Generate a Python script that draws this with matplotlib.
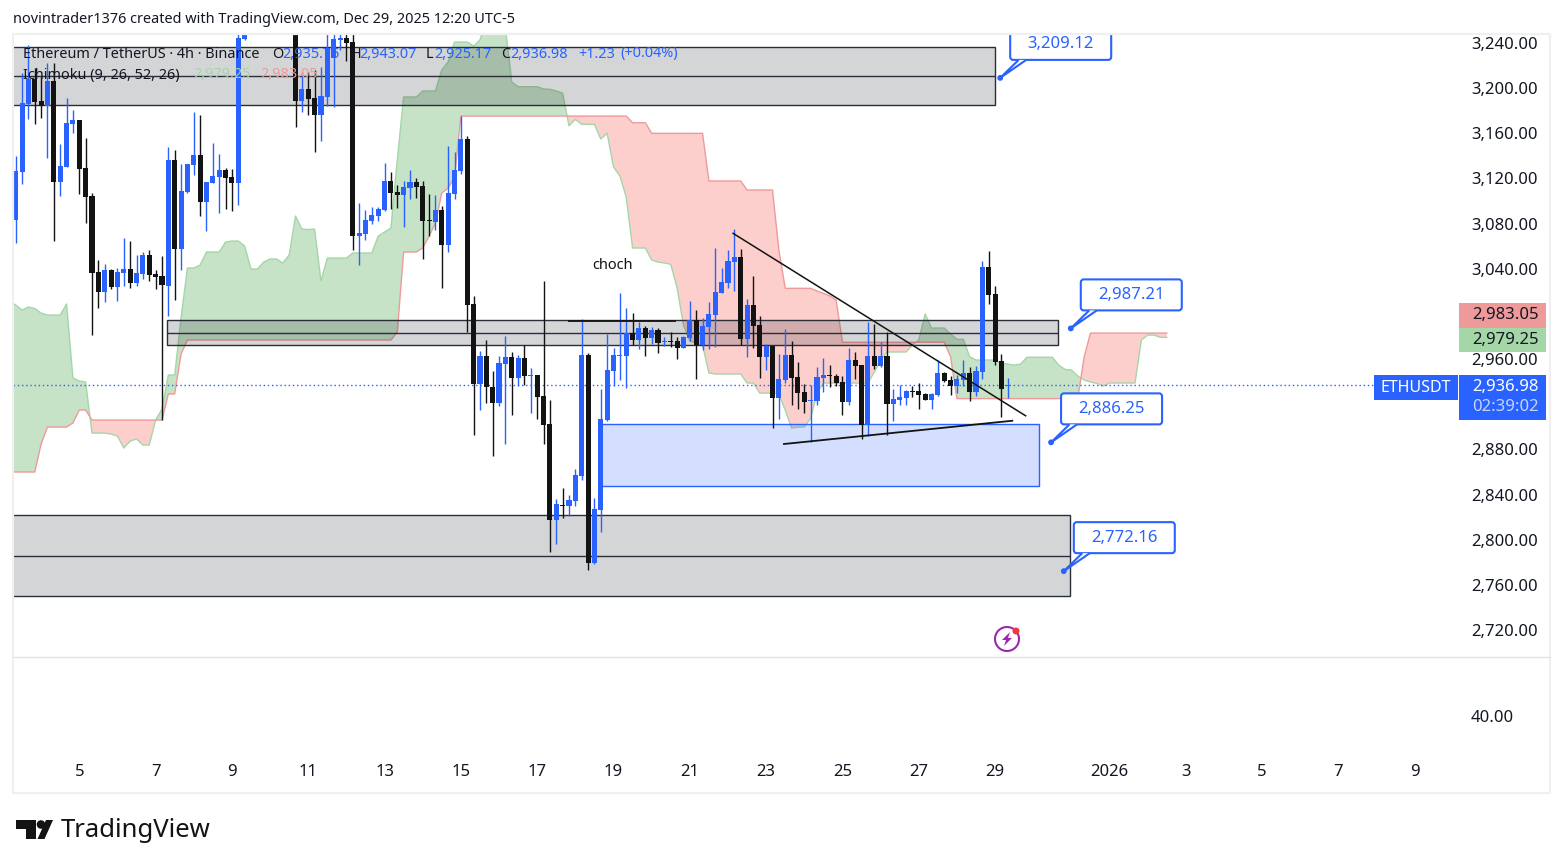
#!/usr/bin/env python3
"""
ETHUSDT 4h chart with Ichimoku cloud, zones and price callouts
"""

import numpy as np
import matplotlib
matplotlib.use('Agg')
import matplotlib.pyplot as plt
from matplotlib.patches import Rectangle, FancyBboxPatch, Polygon, Circle
from matplotlib.transforms import IdentityTransform

nan = np.nan

WIDTH, HEIGHT = 1563, 868
FONT = 'Noto Sans'
BLUE = '#2962ff'
BLACK = '#131313'
DARK = '#2a2e39'

# Candles, first visible bar is index 0. The nan bars sit above the visible range.
opens = [
    3083.2, 3125.7, 3186.0, 3208.1, 3188.6, 3184.5, 3206.3, 3116.9, 3130.2, 3168.2,
    3171.8, 3129.3, 3104.5, 3037.1, 3019.4, 3038.9, 3023.8, 3036.2, 3039.8, 3027.4,
    3035.4, 3052.2, 3035.4, 3033.6, 3024.7, 3136.4, 3057.5, 3108.0, 3131.9, 3140.8,
    3099.1, 3116.0, 3121.3, 3127.5, 3121.3, 3116.0, 3243.8, nan, nan, nan,
    nan, nan, nan, nan, 3260.0, 3188.6, 3199.3, 3191.3, 3176.2, 3192.2,
    3226.4, 3242.7, 3244.4, 3240.9, 3069.0, 3070.8, 3082.3, 3086.7, 3092.1, 3117.8,
    3108.0, 3105.3, 3111.6, 3116.9, 3113.3, 3083.2, 3081.4, 3092.1, 3061.1, 3106.2,
    3126.6, 3155.0, 3008.8, 2938.2, 2962.7, 2935.0, 2921.1, 2955.6, 2961.8, 2943.2,
    2960.9, 2945.0, 2945.9, 2927.3, 2902.5, 2817.4, 2831.0, 2829.8, 2834.3, 2856.4,
    2963.6, 2779.3, 2826.3, 2906.0, 2949.4, 2963.0, 2962.7, 2983.1, 2976.9, 2987.5,
    2978.7, 2985.8, 2975.1, 2976.0, 2976.0, 2969.8, 2978.7, 2994.6, 2972.5, 2988.4,
    2999.0, 3018.5, 3027.4, 3046.0, 3050.4, 2977.8, 3007.9, 2990.2, 2961.8, 2971.6,
    2925.5, 2941.5, 2963.6, 2944.1, 2930.8, 2922.9, 2922.9, 2943.2, 2945.9, 2945.0,
    2939.7, 2922.0, 2959.2, 2954.7, 2901.6, 2962.7, 2953.9, 2962.7, 2920.2, 2923.7,
    2925.5, 2931.7, 2931.7, 2929.1, 2923.7, 2928.2, 2947.7, 2941.5, 2936.1, 2941.5,
    2947.7, 2930.8, 2948.5, 3041.6, 3017.6, 2958.3, 2935.75,
]
closes = [
    3126.6, 3187.1, 3208.1, 3187.7, 3184.5, 3206.3, 3116.9, 3131.0, 3169.1, 3171.8,
    3128.4, 3103.6, 3036.2, 3019.4, 3038.9, 3023.8, 3037.1, 3039.8, 3027.4, 3036.2,
    3052.2, 3034.5, 3032.7, 3025.3, 3136.4, 3057.5, 3108.9, 3132.8, 3140.8, 3099.1,
    3116.9, 3122.2, 3127.5, 3120.4, 3116.0, 3244.4, 3247.7, nan, nan, nan,
    nan, nan, nan, nan, 3188.6, 3199.3, 3190.4, 3176.2, 3193.1, 3235.6,
    3243.5, 3244.4, 3240.0, 3069.0, 3071.7, 3083.2, 3087.6, 3092.9, 3117.8, 3107.1,
    3105.3, 3112.4, 3116.9, 3112.4, 3082.3, 3082.3, 3092.1, 3061.1, 3107.1, 3127.5,
    3155.0, 3007.9, 2938.2, 2962.7, 2935.0, 2921.1, 2956.5, 2961.8, 2943.2, 2960.9,
    2945.0, 2945.6, 2926.4, 2901.6, 2817.4, 2831.6, 2830.1, 2835.2, 2857.3, 2963.6,
    2779.3, 2827.2, 2906.9, 2950.3, 2963.6, 2963.6, 2983.1, 2976.9, 2987.5, 2978.7,
    2985.8, 2974.2, 2976.0, 2975.1, 2969.8, 2979.6, 2994.6, 2972.5, 2989.3, 2999.9,
    3019.4, 3028.3, 3046.9, 3050.4, 2977.8, 3007.9, 2989.3, 2961.8, 2971.6, 2925.5,
    2942.3, 2963.6, 2943.2, 2929.9, 2922.0, 2923.7, 2944.1, 2945.9, 2945.0, 2938.8,
    2922.0, 2959.2, 2953.9, 2901.6, 2962.7, 2953.9, 2962.7, 2920.2, 2924.6, 2926.4,
    2931.7, 2930.8, 2928.2, 2923.7, 2929.1, 2947.7, 2940.6, 2936.1, 2942.3, 2947.7,
    2930.8, 2949.4, 3041.6, 3016.8, 2957.4, 2933.5, 2936.98,
]
highs = [
    3139.9, 3213.1, 3238.2, 3217.6, 3209.6, 3222.0, 3222.0, 3150.5, 3191.0, 3180.7,
    3172.0, 3155.8, 3107.4, 3047.8, 3044.2, 3040.0, 3040.4, 3067.3, 3064.6, 3051.9,
    3054.6, 3056.6, 3038.9, 3051.3, 3147.9, 3145.2, 3132.8, 3132.8, 3178.9, 3176.2,
    3116.9, 3151.1, 3141.7, 3129.3, 3128.4, 3248.6, 3250.0, nan, nan, nan,
    nan, nan, nan, nan, 3270.0, 3214.0, 3214.6, 3216.1, 3219.1, 3250.0,
    3255.0, 3248.0, 3255.0, 3255.0, 3098.0, 3092.1, 3094.4, 3095.0, 3133.7, 3125.7,
    3114.2, 3117.8, 3127.5, 3120.4, 3117.8, 3106.2, 3105.6, 3095.6, 3148.8, 3143.4,
    3175.3, 3157.6, 3015.9, 2967.1, 2976.9, 2949.4, 2962.7, 2980.4, 2966.3, 2963.6,
    2972.5, 2952.1, 2945.9, 3029.2, 2923.7, 2836.0, 2845.8, 2839.6, 2862.6, 2995.5,
    2965.4, 2836.9, 2933.5, 2982.2, 2969.8, 3018.5, 3005.2, 3000.8, 2992.8, 2989.3,
    2988.4, 2987.5, 2979.6, 2984.0, 2979.6, 2980.4, 3011.4, 3003.5, 2996.4, 3010.6,
    3058.4, 3040.7, 3056.6, 3075.2, 3057.5, 3013.2, 3033.6, 2998.2, 2973.3, 2971.6,
    2964.5, 2986.6, 2976.0, 2957.4, 2937.9, 2937.0, 2953.0, 2960.9, 2954.7, 2946.8,
    2945.0, 2969.8, 2966.3, 2954.7, 2992.8, 2991.1, 2975.1, 2984.0, 2933.5, 2937.0,
    2932.6, 2936.1, 2938.8, 2930.0, 2930.0, 2959.2, 2948.5, 2945.0, 2945.9, 2959.2,
    2953.0, 2953.9, 3046.9, 3055.7, 3024.7, 2964.5, 2943.07,
]
lows = [
    3063.1, 3115.1, 3173.0, 3168.2, 3173.6, 3138.1, 3064.9, 3104.5, 3130.0, 3160.0,
    3106.2, 3080.8, 2981.3, 3005.2, 3010.6, 3022.4, 3011.4, 3024.7, 3023.0, 3024.7,
    3030.9, 3029.2, 3022.1, 2906.0, 2998.2, 3012.3, 3038.9, 3107.1, 3123.1, 3086.7,
    3073.5, 3115.7, 3089.4, 3092.9, 3091.2, 3096.5, 3243.0, nan, nan, nan,
    nan, nan, nan, nan, 3165.9, 3178.9, 3176.2, 3143.4, 3153.2, 3184.2,
    3183.3, 3233.8, 3224.1, 3056.6, 3043.3, 3065.5, 3079.7, 3082.6, 3091.2, 3092.9,
    3093.8, 3077.0, 3101.8, 3102.7, 3048.7, 3069.0, 3074.3, 3023.0, 3054.9, 3101.8,
    3124.0, 2984.0, 2892.7, 2914.9, 2921.1, 2874.1, 2918.4, 2884.8, 2910.4, 2936.1,
    2937.0, 2912.2, 2906.9, 2884.8, 2789.1, 2796.2, 2819.2, 2821.0, 2829.8, 2852.9,
    2773.2, 2778.4, 2806.8, 2905.1, 2936.1, 2941.5, 2934.4, 2972.5, 2968.9, 2962.7,
    2973.3, 2965.4, 2971.6, 2970.7, 2960.1, 2969.5, 2976.0, 2942.3, 2968.0, 2968.9,
    2970.7, 3018.5, 3023.0, 3020.3, 2972.5, 2961.8, 2969.8, 2943.2, 2950.3, 2898.9,
    2906.9, 2938.8, 2919.3, 2915.8, 2912.2, 2886.5, 2919.3, 2930.8, 2935.3, 2936.1,
    2910.4, 2919.3, 2942.3, 2889.2, 2891.8, 2951.2, 2953.0, 2892.7, 2905.1, 2919.3,
    2919.3, 2926.4, 2915.8, 2923.7, 2915.8, 2927.3, 2939.7, 2928.2, 2929.9, 2936.1,
    2922.9, 2927.3, 2942.3, 3008.8, 2954.7, 2908.7, 2925.17,
]

# Ichimoku leading spans, one value per bar starting at bar -1
span_a = [
    3011.4, 3007.9, 3003.5, 3006.1, 3004.8, 3000.8, 2999.0, 2999.0, 2999.0, 3008.8,
    2943.2, 2940.6, 2939.7, 2894.5, 2894.5, 2894.5, 2893.6, 2891.8, 2881.2, 2887.4,
    2889.2, 2883.9, 2883.9, 2906.0, 2915.8, 2945.9, 2945.9, 2996.4, 3040.7, 3040.7,
    3043.3, 3054.9, 3054.9, 3054.9, 3063.7, 3064.6, 3064.6, 3060.2, 3039.8, 3039.8,
    3046.0, 3048.7, 3048.7, 3045.1, 3052.2, 3086.7, 3075.2, 3074.8, 3075.2, 3029.2,
    3049.5, 3049.5, 3049.5, 3049.5, 3054.0, 3054.0, 3054.0, 3054.0, 3069.0, 3072.6,
    3076.1, 3136.4, 3192.2, 3192.2, 3192.2, 3197.5, 3197.5, 3197.5, 3216.1, 3223.2,
    3240.9, 3240.9, 3240.9, 3237.3, 3242.7, 3260.4, 3262.0, 3262.0, 3253.3, 3205.5,
    3201.3, 3201.3, 3201.3, 3201.3, 3199.3, 3199.0, 3197.5, 3195.7, 3166.7, 3172.4,
    3168.0, 3168.0, 3168.0, 3155.0, 3160.0, 3130.2, 3122.2, 3103.6, 3058.4, 3058.4,
    3058.4, 3047.8, 3046.0, 3045.1, 3044.0, 3023.0, 2990.2, 2976.0, 2974.2, 2972.5,
    2947.7, 2946.8, 2946.8, 2946.8, 2946.8, 2946.8, 2938.8, 2938.8, 2929.9, 2929.9,
    2929.9, 2929.1, 2914.9, 2898.9, 2899.8, 2899.8, 2907.8, 2929.9, 2938.8, 2938.8,
    2938.8, 2938.8, 2938.8, 2938.8, 2938.8, 2938.8, 2948.5, 2959.2, 2966.3, 2966.3,
    2966.3, 2966.3, 2972.5, 2976.9, 2999.9, 2987.5, 2987.5, 2987.5, 2982.2, 2977.5,
    2977.5, 2962.1, 2959.2, 2959.2, 2959.2, 2959.2, 2956.5, 2955.6, 2954.7, 2955.6,
    2961.6, 2961.6, 2961.6, 2961.6, 2961.6, 2954.7, 2950.8, 2950.3, 2945.0, 2941.5,
    2939.7, 2938.5, 2936.1, 2938.8, 2938.8, 2938.8, 2938.8, 2938.8, 2976.9, 2981.3,
    2981.3, 2979.25, 2979.25,
]
span_b = (
    [2860.0] * 5 + [2884.8] + [2899.8] * 4 + [2903.4] + [2914.9] * 2 + [2906.0] * 12
    + [2929.1] * 2 + [2964.5] + [2976.9] * 33 + [2984.0] + [3054.9] * 3
    + [3058.4, 3069.0, 3080.5, 3107.1, 3111.6, 3121.3] + [3175.3] * 27 + [3169.4] * 3
    + [3160.0] * 9 + [3117.8] * 6 + [3109.8] * 5 + [3056.6] + [3022.7] * 5
    + [3020.3, 3018.3, 3015.9, 3012.3] + [2974.9] * 17 + [2962.1] + [2925.0] * 20
    + [2961.8] + [2983.05] * 13
)

# Axis ticks
price_ticks = [3240, 3200, 3160, 3120, 3080, 3040, 2960, 2880, 2840, 2800, 2760, 2720]
time_tick_bars = [10, 22, 34, 46, 58, 70, 82, 94, 106, 118, 130, 142, 154, 172, 184, 196, 208, 220]
time_tick_labels = ['5', '7', '9', '11', '13', '15', '17', '19', '21', '23', '25', '27', '29',
                    '2026', '3', '5', '7', '9']

# Grey zones: first bar, last bar, top, middle, bottom
zone_first = [-1, 23.8, -1]
zone_last = [154, 163.9, 165.8]
zone_top = [3236.5, 2994.3, 2821.6]
zone_mid = [3210.8, 2982.8, 2785.3]
zone_bottom = [3185.1, 2972.2, 2749.8]

# Blue demand box
box_bars = [92.1, 160.9]
box_prices = [2847.3, 2902.2]

# Trend lines and the short choch level
line_down_bars = [112.8, 158.8]
line_down_prices = [3071.4, 2909.8]
line_up_bars = [120.8, 156.7]
line_up_prices = [2884.8, 2905.4]
choch_bars = [86.9, 103.8]
choch_price = 2993.7

last_price = 2936.98

# Callouts: anchor bar and price
callout_bars = [154.8, 165.9, 162.8, 164.8]
callout_prices = [3209.12, 2987.21, 2886.25, 2772.16]


def px(x, y):
    """Image pixel (y from the top) to figure fraction"""
    return x / WIDTH, 1 - y / HEIGHT


def fig_rect(fig, x0, y0, x1, y1, **kwargs):
    """Rectangle given in image pixels, drawn on the figure"""
    fx, fy = px(x0, y1)
    fig.add_artist(Rectangle((fx, fy), (x1 - x0) / WIDTH, (y1 - y0) / HEIGHT,
                             transform=fig.transFigure, **kwargs))


def fig_text(fig, x, y, s, size=10.5, color='#131722', ha='left', weight='normal', zorder=10):
    fx, fy = px(x, y)
    fig.text(fx, fy, s, fontsize=size, color=color, ha=ha, va='center',
             fontweight=weight, family=FONT, zorder=zorder)


def draw_candles(ax):
    o, c = np.array(opens), np.array(closes)
    h, l = np.array(highs), np.array(lows)
    x = np.arange(len(o))
    up = c >= o
    for mask, color in [(up, BLUE), (~up & ~np.isnan(o), BLACK)]:
        ax.vlines(x[mask], l[mask], h[mask], color=color, linewidth=1.0, zorder=4)
        body = np.maximum(np.abs(c[mask] - o[mask]), 1.0)
        ax.bar(x[mask], body, bottom=np.minimum(o[mask], c[mask]), width=0.8,
               color=color, linewidth=0, zorder=5)


def draw_cloud(ax):
    a, b = np.array(span_a), np.array(span_b)
    x = np.arange(-1, len(a) - 1)
    ax.fill_between(x, a, b, where=a >= b, interpolate=True, color='#43a047', alpha=0.3,
                    linewidth=0, zorder=1)
    ax.fill_between(x, a, b, where=a < b, interpolate=True, color='#f44336', alpha=0.25,
                    linewidth=0, zorder=1)
    ax.plot(x, a, color='#a5d6a7', linewidth=1.0, zorder=1.5)
    ax.plot(x, b, color='#ef9a9a', linewidth=1.0, zorder=1.5)


def draw_zones(ax):
    for first, last, top, mid, bottom in zip(zone_first, zone_last, zone_top, zone_mid, zone_bottom):
        ax.add_patch(Rectangle((first, bottom), last - first, top - bottom,
                               facecolor=(0.075, 0.09, 0.133, 0.18), edgecolor=DARK,
                               linewidth=1.0, zorder=2))
        ax.hlines(mid, first, last, color=DARK, linewidth=1.0, zorder=2)

    ax.add_patch(Rectangle((box_bars[0], box_prices[0]), box_bars[1] - box_bars[0],
                           box_prices[1] - box_prices[0],
                           facecolor=(0.16, 0.384, 1.0, 0.2), edgecolor=BLUE,
                           linewidth=1.0, zorder=2))


def draw_lines(ax):
    ax.plot(line_down_bars, line_down_prices, color=BLACK, linewidth=1.1, zorder=6)
    ax.plot(line_up_bars, line_up_prices, color=BLACK, linewidth=1.3, zorder=6)
    ax.hlines(choch_price, choch_bars[0], choch_bars[1], color=BLACK, linewidth=1.3, zorder=6)
    ax.text(93.9, 3043.3, 'choch', fontsize=10.5, family=FONT, color=BLACK,
            ha='center', va='center', zorder=7)
    ax.hlines(last_price, -1, 213.7, color=BLUE, linewidth=1.0, linestyles=(0, (1, 2)), zorder=3)


def draw_callouts(ax):
    """Price callouts, offsets in pixels from the anchor point"""
    ident = IdentityTransform()
    for bar, price in zip(callout_bars, callout_prices):
        ax_x, ax_y = ax.transData.transform((bar, price))
        box = FancyBboxPatch((ax_x + 12, ax_y + 20), 97, 27,
                             boxstyle='round,pad=2,rounding_size=3', transform=ident,
                             facecolor='white', edgecolor=BLUE, linewidth=1.5, zorder=8)
        ax.add_artist(box)
        tail = Polygon([(ax_x + 18.5, ax_y + 18), (ax_x, ax_y), (ax_x + 26, ax_y + 18)],
                       closed=False, transform=ident, facecolor='white', edgecolor=BLUE,
                       linewidth=1.5, zorder=8.5)
        ax.add_artist(tail)
        ax.add_artist(Circle((ax_x, ax_y), 2.2, transform=ident, color=BLUE, zorder=9))
        t = ax.text(ax_x + 60.5, ax_y + 33.5, f'{price:,.2f}', transform=ident, fontsize=12,
                    family=FONT, fontweight='medium', color=BLUE, ha='center', va='center',
                    zorder=9)
        t.set_clip_on(True)


def draw_price_tags(fig):
    fig_rect(fig, 1459, 303, 1546, 327.5, facecolor='#ef9a9a', linewidth=0, zorder=5)
    fig_rect(fig, 1459, 327.5, 1546, 352, facecolor='#a5d6a7', linewidth=0, zorder=5)
    fig_rect(fig, 1459, 375, 1546, 420, facecolor=BLUE, linewidth=0, zorder=5)
    fig_rect(fig, 1374, 375, 1458, 400, facecolor=BLUE, linewidth=0, zorder=5)
    fig_text(fig, 1539, 315, '2,983.05', size=12, color='#131722', ha='right')
    fig_text(fig, 1539, 339.5, '2,979.25', size=12, color='#131722', ha='right')
    fig_text(fig, 1539, 387, '2,936.98', size=12, color='white', ha='right')
    fig_text(fig, 1539, 407, '02:39:02', size=12, color='#c5d3fb', ha='right')
    fig_text(fig, 1416, 387.5, 'ETHUSDT', size=11.5, color='white', ha='center')


def draw_legend(fig):
    fig_text(fig, 13, 19.5, 'novintrader1376 created with TradingView.com, Dec 29, 2025 12:20 UTC-5', size=10.4)
    y1, y2 = 54, 75
    fig_text(fig, 23, y1, 'Ethereum / TetherUS · 4h · Binance', size=10.4)
    for x, label in [(272, 'O'), (351, 'H'), (426, 'L'), (501, 'C')]:
        fig_text(fig, x, y1, label, size=10.4)
    for x, label in [(282, '2,935.75'), (359, '2,943.07'), (434, '2,925.17'), (510, '2,936.98'),
                     (578, '+1.23'), (620, '(+0.04%)')]:
        fig_text(fig, x, y1, label, size=10.4, color=BLUE)
    fig_text(fig, 23, y2, 'Ichimoku (9, 26, 52, 26)', size=10.4)
    fig_text(fig, 193, y2, '2,979.25', size=10.4, color='#a5d6a7')
    fig_text(fig, 260, y2, '2,983.05', size=10.4, color='#ef9a9a')


def draw_decorations(fig):
    # chart frame and pane separator
    fig_rect(fig, 12.5, 33.5, 1550, 793, facecolor='none', edgecolor='#f0f0f0', linewidth=1.6, zorder=0.5)
    fx0, fy = px(13, 656.5)
    fx1, _ = px(1550, 656.5)
    fig.add_artist(plt.Line2D([fx0, fx1], [fy, fy], color='#e0e3eb', linewidth=1.0, zorder=0.5))

    # lightning badge
    cx, cy = 1007, 639
    aspect = WIDTH / HEIGHT
    fig.add_artist(Circle((cx, HEIGHT - cy), 12, transform=IdentityTransform(), facecolor='none',
                          edgecolor='#9c27b0', linewidth=1.5, zorder=7))
    bolt = [(cx + 3, cy - 7), (cx - 5, cy + 1), (cx - 1, cy + 1), (cx - 3, cy + 7),
            (cx + 5, cy - 1), (cx + 1, cy - 1)]
    fig.add_artist(Polygon([(x, HEIGHT - y) for x, y in bolt], transform=IdentityTransform(),
                           facecolor='#9c27b0', linewidth=0, zorder=7))
    fig.add_artist(Circle((1016, HEIGHT - 631), 3.5, transform=IdentityTransform(),
                          facecolor='#f23645', linewidth=0, zorder=8))

    # TradingView logo
    logo_t = [(16, 820), (36, 820), (36, 839), (26, 839), (26, 829), (16, 829)]
    logo_slash = [(53, 820), (44.5, 839), (37.5, 839), (46, 820)]
    for pts in (logo_t, logo_slash):
        fig.add_artist(Polygon([(x, HEIGHT - y) for x, y in pts], transform=IdentityTransform(),
                               facecolor=BLACK, linewidth=0, zorder=7))
    fig.add_artist(Circle((41, HEIGHT - 824.5), 4.3, transform=IdentityTransform(),
                          facecolor=BLACK, linewidth=0, zorder=7))
    fig_text(fig, 61, 830.5, 'TradingView', size=18.5, color=BLACK, weight='bold')


def main():
    plt.rcParams['font.family'] = [FONT, 'DejaVu Sans']

    fig = plt.figure(figsize=(WIDTH / 100, HEIGHT / 100), dpi=100, facecolor='white')

    # Price pane
    fx, fy = px(13, 656)
    ax = fig.add_axes([fx, fy, (1460 - 13) / WIDTH, (656 - 34) / HEIGHT])
    ax.set_xlim(-0.4245, 227.1)
    ax.set_ylim(2697.0, 3248.0)
    ax.yaxis.tick_right()
    ax.set_yticks(price_ticks, [f'{p:,.2f}' for p in price_ticks])
    ax.set_xticks([])
    ax.tick_params(axis='y', length=0, pad=8, labelsize=12, labelcolor='#131722')
    for spine in ax.spines.values():
        spine.set_visible(False)

    # Lower pane, only the time scale and one value label
    fx, fy = px(13, 758)
    ax2 = fig.add_axes([fx, fy, (1460 - 13) / WIDTH, (758 - 657) / HEIGHT])
    ax2.set_xlim(-0.4245, 227.1)
    ax2.set_ylim(19, 69.5)
    ax2.yaxis.tick_right()
    ax2.set_yticks([40], ['40.00'])
    ax2.set_xticks(time_tick_bars, time_tick_labels)
    ax2.tick_params(axis='both', length=0, labelsize=12, labelcolor='#131722')
    ax2.tick_params(axis='y', pad=8)
    ax2.tick_params(axis='x', pad=4)
    for label in ax2.get_xticklabels():
        if label.get_text() == '2026':
            label.set_fontweight('bold')
    for spine in ax2.spines.values():
        spine.set_visible(False)

    draw_cloud(ax)
    draw_zones(ax)
    draw_candles(ax)
    draw_lines(ax)
    draw_callouts(ax)
    draw_price_tags(fig)
    draw_legend(fig)
    draw_decorations(fig)

    fig.savefig('out.png', dpi=100)
    plt.close(fig)
    print("Saved: out.png")


if __name__ == '__main__':
    main()
